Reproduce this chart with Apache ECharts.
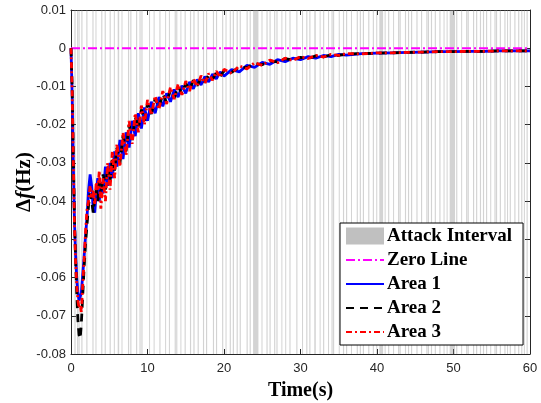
<!DOCTYPE html>
<html>
<head>
<meta charset="utf-8">
<script src="https://cdn.jsdelivr.net/npm/echarts@6/dist/echarts.min.js"></script>
<style>html,body{margin:0;padding:0;background:#fff;}#c{width:541px;height:403px;}</style>
</head>
<body>
<div id="c"></div>
<script>
const time = [
  0, 0.15, 0.3, 0.45, 0.6, 0.75, 0.9, 1.05, 1.2, 1.35,
  1.5, 1.7, 1.9, 2.1, 2.3, 2.5, 2.7, 2.9, 3.1, 3.3,
  3.5, 3.7, 3.9, 4.2, 4.5, 4.8, 5.1, 5.4, 5.7, 6.0,
  6.4, 6.8, 7.2, 7.6, 8.0, 8.4, 8.8, 9.2, 9.6, 10,
  10.5, 11, 11.5, 12, 12.5, 13, 13.5, 14, 14.5, 15,
  15.5, 16, 16.5, 17, 17.5, 18, 18.5, 19, 19.5, 20,
  21, 22, 23, 24, 25, 26, 27, 28, 29, 30,
  31, 32, 33, 34, 35, 36, 38, 40, 42, 44,
  46, 48, 50, 52, 54, 56, 58, 60
];
const area1 = [
  0, -0.012, -0.030, -0.045, -0.054, -0.060, -0.064, -0.066, -0.066, -0.064,
  -0.060, -0.055, -0.049, -0.044, -0.037, -0.033, -0.036, -0.042, -0.043, -0.038,
  -0.034, -0.040, -0.035, -0.038, -0.031, -0.036, -0.030, -0.034, -0.027, -0.031,
  -0.024, -0.029, -0.022, -0.026, -0.019, -0.023, -0.017, -0.021, -0.0155, -0.019,
  -0.0140, -0.0170, -0.0128, -0.0152, -0.0118, -0.0140, -0.0108, -0.0128, -0.0098, -0.0118,
  -0.0088, -0.0106, -0.0082, -0.0096, -0.0074, -0.0088, -0.0068, -0.0080, -0.0062, -0.0073,
  -0.0056, -0.0062, -0.0045, -0.0050, -0.0037, -0.0042, -0.0030, -0.0035, -0.0026, -0.0030,
  -0.0022, -0.0026, -0.0019, -0.0022, -0.0016, -0.0018, -0.0014, -0.0013, -0.0012, -0.0011,
  -0.0010, -0.0009, -0.0009, -0.0008, -0.0008, -0.0007, -0.0007, -0.0007
];
const area2 = [
  0, -0.010, -0.028, -0.044, -0.055, -0.064, -0.071, -0.075, -0.076, -0.072,
  -0.066, -0.058, -0.051, -0.046, -0.041, -0.038, -0.040, -0.043, -0.039, -0.037,
  -0.040, -0.035, -0.039, -0.033, -0.037, -0.031, -0.035, -0.029, -0.032, -0.026,
  -0.030, -0.023, -0.027, -0.020, -0.024, -0.018, -0.021, -0.016, -0.019, -0.0145,
  -0.0172, -0.0132, -0.0155, -0.0120, -0.0142, -0.0110, -0.0130, -0.0100, -0.0119, -0.0092,
  -0.0108, -0.0084, -0.0098, -0.0077, -0.0089, -0.0070, -0.0081, -0.0064, -0.0074, -0.0059,
  -0.0063, -0.0049, -0.0051, -0.0040, -0.0043, -0.0033, -0.0036, -0.0027, -0.0031, -0.0024,
  -0.0027, -0.0020, -0.0023, -0.0017, -0.0019, -0.0015, -0.0014, -0.0013, -0.0012, -0.0011,
  -0.0010, -0.0009, -0.0009, -0.0008, -0.0008, -0.0007, -0.0007, -0.0007
];
const area3 = [
  0, -0.011, -0.029, -0.046, -0.056, -0.062, -0.066, -0.068, -0.067, -0.069,
  -0.063, -0.056, -0.048, -0.042, -0.040, -0.036, -0.039, -0.037, -0.041, -0.035,
  -0.037, -0.032, -0.042, -0.034, -0.040, -0.030, -0.037, -0.027, -0.034, -0.025,
  -0.031, -0.022, -0.028, -0.019, -0.025, -0.017, -0.022, -0.015, -0.020, -0.0135,
  -0.0175, -0.0125, -0.0160, -0.0112, -0.0146, -0.0102, -0.0133, -0.0094, -0.0122, -0.0086,
  -0.0112, -0.0080, -0.0100, -0.0072, -0.0092, -0.0066, -0.0084, -0.0060, -0.0076, -0.0055,
  -0.0066, -0.0046, -0.0054, -0.0038, -0.0045, -0.0031, -0.0038, -0.0026, -0.0032, -0.0022,
  -0.0027, -0.0019, -0.0023, -0.0016, -0.0019, -0.0014, -0.0015, -0.0012, -0.0012, -0.0011,
  -0.0010, -0.0009, -0.0009, -0.0008, -0.0008, -0.0007, -0.0007, -0.0007
];
const zeroLine = [[0, 0], [60, 0]];
const attackIntervals = [
  [0.45,0.6],[0.8,0.95],[1.0,1.1],[1.35,1.5],[2.0,2.15],[2.8,2.95],[3.2,3.3],[3.95,4.1],[4.4,4.55],[5.05,5.2],
  [5.6,5.7],[6.1,6.3],[6.6,6.7],[7.45,7.6],[7.75,7.9],[8.5,8.65],[8.95,9.1],[9.2,9.35],[10.2,10.3],[10.8,10.9],
  [11.55,11.7],[12.3,12.4],[12.8,12.9],[13.55,13.7],[13.75,13.9],[14.3,14.4],[14.85,15.0],[15.55,15.7],[16.0,16.15],[16.55,16.7],
  [17.25,17.4],[17.65,17.8],[18.55,18.7],[18.95,19.1],[19.75,19.9],[20.2,20.3],[20.75,20.9],[21.15,21.3],[21.65,21.8],[22.05,22.2],
  [22.95,23.1],[23.35,23.5],[23.8,24.5],[24.9,25.0],[25.55,25.7],[25.95,26.1],[26.55,26.7],[26.85,27.0],[27.5,27.6],[28.0,28.1],
  [28.55,28.7],[29.45,29.6],[30.2,30.3],[30.75,30.9],[31.15,31.3],[31.8,32.0],[32.5,32.6],[32.95,33.1],[33.6,33.7],[34.05,34.2],
  [34.25,34.4],[35.0,35.1],[35.55,35.7],[35.95,36.1],[36.6,36.7],[37.35,37.5],[37.75,37.9],[38.15,38.3],[38.85,39.0],[39.45,39.6],
  [39.9,40.0],[40.3,40.8],[41.0,41.1],[41.45,41.6],[42.1,42.2],[42.75,42.9],[42.95,43.1],[43.65,43.8],[44.05,44.2],[44.45,44.6],
  [45.15,45.3],[45.75,45.9],[46.45,46.6],[46.65,46.8],[47.05,47.2],[47.55,47.7],[48.15,48.3],[48.7,48.8],[49.1,49.2],[49.5,50.2],
  [50.35,50.5],[51.0,51.1],[51.65,51.8],[51.85,52.0],[52.55,52.7],[52.95,53.1],[53.45,53.6],[53.85,54.0],[54.25,54.4],[54.8,54.9],
  [55.35,55.5],[55.55,55.7],[56.05,56.2],[56.65,56.8],[57.0,57.1],[57.35,57.5],[57.95,58.1],[58.45,58.6],[58.85,59.0],[59.2,59.3],
  [59.55,59.7]
];
const xTicks = {min: 0, max: 60, interval: 10};
const yTicks = {min: -0.08, max: 0.01, interval: 0.01};

const chart = echarts.init(document.getElementById('c'), null, {renderer: 'canvas'});
const axisCol = '#262626';
const lblFont = {fontFamily: 'Liberation Sans', fontSize: 13, color: axisCol};
const nameFont = {fontFamily: 'Liberation Serif', fontWeight: 'bold', fontSize: 20, color: '#000'};
function pair(arr) { return time.map((t, i) => [t, arr[i]]); }
function fmtY(v) { const r = Math.round(v * 100) / 100; return r === 0 ? '0' : String(r); }

const baseX = {type: 'value', min: xTicks.min, max: xTicks.max, interval: xTicks.interval,
  axisLine: {show: true, onZero: false, lineStyle: {color: axisCol, width: 1}},
  axisTick: {show: true, inside: true, length: 5, lineStyle: {color: axisCol}},
  splitLine: {show: false}};
const baseY = {type: 'value', min: yTicks.min, max: yTicks.max, interval: yTicks.interval,
  axisLine: {show: true, onZero: false, lineStyle: {color: axisCol, width: 1}},
  axisTick: {show: true, inside: true, length: 5, lineStyle: {color: axisCol}},
  splitLine: {show: false}};
const hideSym = {opacity: 0};

chart.setOption({
  animation: false,
  backgroundColor: '#fff',
  grid: {left: 71, right: 11, top: 10, bottom: 49, containLabel: false, outerBoundsMode: 'none'},
  xAxis: [
    Object.assign({}, baseX, {position: 'bottom', name: 'Time(s)', nameLocation: 'middle', nameGap: 27, nameMoveOverlap: false,
      nameTextStyle: nameFont, axisLabel: Object.assign({margin: 8}, lblFont)}),
    Object.assign({}, baseX, {position: 'top', axisLabel: {show: false}})
  ],
  yAxis: [
    Object.assign({}, baseY, {position: 'left', name: 'Δ{i|f}(Hz)', nameLocation: 'middle', nameGap: 36, nameRotate: 90, nameMoveOverlap: false,
      nameTextStyle: Object.assign({}, nameFont, {fontSize: 21, rich: {i: {fontFamily: 'Liberation Serif', fontWeight: 'bold', fontStyle: 'italic', fontSize: 21, color: '#000'}}}),
      axisLabel: Object.assign({margin: 5, formatter: fmtY}, lblFont)}),
    Object.assign({}, baseY, {position: 'right', axisLabel: {show: false}})
  ],
  legend: {
    orient: 'vertical', left: 340, top: 223,
    backgroundColor: '#fff', borderColor: '#000', borderWidth: 1, padding: [3, 11, 3, 5],
    itemWidth: 38, itemHeight: 17, itemGap: 4,
    textStyle: {fontFamily: 'Liberation Serif', fontWeight: 'bold', fontSize: 19, color: '#000', lineHeight: 20, padding: [0, 0, 0, -2]},
    data: [
      {name: 'Attack Interval', icon: 'rect', itemStyle: {color: '#c0c0c0'}},
      {name: 'Zero Line', itemStyle: hideSym},
      {name: 'Area 1', itemStyle: hideSym},
      {name: 'Area 2', itemStyle: hideSym},
      {name: 'Area 3', itemStyle: hideSym}
    ]
  },
  series: [
    {type: 'custom', name: 'Attack Interval', data: attackIntervals, silent: true, z: 1,
      itemStyle: {color: '#c0c0c0'},
      encode: {x: [0, 1]},
      renderItem: function (params, api) {
        const a = api.coord([api.value(0), yTicks.max]);
        const b = api.coord([api.value(1), yTicks.min]);
        return {type: 'rect', shape: {x: a[0], y: a[1], width: Math.max(b[0] - a[0], 1), height: b[1] - a[1]},
          style: {fill: 'rgba(140,140,140,0.38)'}};
      }},
    {type: 'line', name: 'Zero Line', data: zeroLine, symbol: 'none', z: 3,
      lineStyle: {color: '#ff00ff', width: 2, type: [9, 3, 2, 3]}, itemStyle: {color: '#ff00ff'}},
    {type: 'line', name: 'Area 1', data: pair(area1), symbol: 'none', z: 4,
      lineStyle: {color: '#0000ff', width: 2.8, type: 'solid'}, itemStyle: {color: '#0000ff'}},
    {type: 'line', name: 'Area 2', data: pair(area2), symbol: 'none', z: 5,
      lineStyle: {color: '#000000', width: 2.8, type: [8, 6]}, itemStyle: {color: '#000000'}},
    {type: 'line', name: 'Area 3', data: pair(area3), symbol: 'none', z: 6,
      lineStyle: {color: '#ff0000', width: 2.8, type: [6, 3, 2, 3]}, itemStyle: {color: '#ff0000'}}
  ]
});
</script>
</body>
</html>
